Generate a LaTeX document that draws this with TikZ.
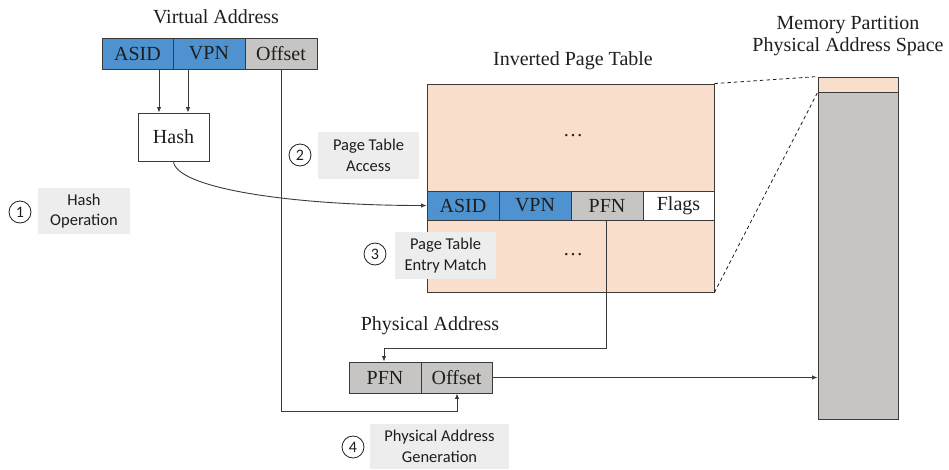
\documentclass[tikz,border=0pt]{standalone}
\usepackage{fontspec}
\setmainfont{Liberation Serif}
\newfontfamily\labelfont{Carlito}
\usetikzlibrary{arrows.meta}
\definecolor{fieldblue}{HTML}{4E93D0}
\definecolor{fieldgray}{HTML}{C6C5C3}
\definecolor{tablepeach}{HTML}{F8DECB}
\definecolor{notegray}{HTML}{EDEDED}
\definecolor{ink}{HTML}{1E1E1E}
\definecolor{edge}{HTML}{3A3A3A}
\tikzset{
  cell/.style={draw=edge, line width=0.9pt, inner sep=0pt, minimum height=31pt,
    minimum width=72pt, text=ink, font=\fontsize{20}{22}\selectfont},
  bluecell/.style={cell, fill=fieldblue},
  graycell/.style={cell, fill=fieldgray},
  whitecell/.style={cell, fill=white},
  title/.style={text=ink, font=\fontsize{20}{22}\selectfont, align=center, inner sep=0pt},
  note/.style={fill=notegray, inner sep=0pt, text=ink, align=center,
    font=\labelfont\fontsize{16.5}{20.5}\selectfont},
  stepmark/.style={circle, draw=ink, line width=0.8pt, minimum size=22pt, inner sep=0pt,
    text=ink, font=\labelfont\fontsize{16}{16}\selectfont},
  link/.style={draw=edge, line width=0.9pt},
  arrowlink/.style={link, -{Latex[length=5.5pt,width=4.5pt]}},
  guide/.style={draw=ink, line width=0.8pt, dash pattern=on 3.5pt off 3pt},
}
\begin{document}
\begin{tikzpicture}[x=1pt, y=-1pt]
\useasboundingbox (0,0) rectangle (949,469);

% ---- virtual address ----
\node[title] (vatitle) at (216,17) {Virtual Address};
\node[bluecell, minimum width=71pt] (vasid) at (137.5,53.5) {ASID};
\node[bluecell] (vvpn) at (209,53.5) {VPN};
\node[graycell] (voff) at (281,53.5) {Offset};

% ---- hash unit ----
\node[whitecell, minimum width=71pt, minimum height=48pt] (hash) at (173.5,137) {Hash};
\draw[arrowlink] (vasid.south -| 159,0) -- (hash.north -| 159,0);
\draw[arrowlink] (vvpn.south -| 188,0) -- (hash.north -| 188,0);

% ---- inverted page table ----
\node[title] (ipttitle) at (573,61) {Inverted Page Table};
\node[draw=edge, line width=0.9pt, fill=tablepeach, minimum width=287pt, minimum height=208pt,
  inner sep=0pt] (ipt) at (570.5,188) {};
\node[text=ink, font=\fontsize{20}{22}\selectfont] (dotsup) at (573,136) {\dots};
\node[text=ink, font=\fontsize{20}{22}\selectfont] (dotsdown) at (573,255) {\dots};
\node[bluecell, minimum height=29pt] (easid) at (463,205.5) {ASID};
\node[bluecell, minimum height=29pt] (evpn) at (535,205.5) {VPN};
\node[graycell, minimum height=29pt] (epfn) at (607,205.5) {PFN};
\node[whitecell, minimum height=29pt, minimum width=71pt] (eflags) at (678.5,205.5) {Flags};

% hash result selects the table entry
\draw[arrowlink] (hash.south) .. controls (176,188) and (290,205.5) .. (easid.west);

% ---- physical address ----
\node[title] (patitle) at (430,326) {Physical Address};
\node[graycell] (ppfn) at (385,377.5) {PFN};
\node[graycell, minimum width=71pt] (poff) at (456.5,377.5) {Offset};

% frame number from the matching entry
\draw[arrowlink] (epfn.south -| 606,0) |- (384,348) -- (ppfn.north -| 384,0);
% page offset carried over from the virtual address
\draw[arrowlink] (voff.south) |- (457,411) -- (poff.south -| 457,0);

% ---- memory partition ----
\node[title] (memtitle) at (848,36) {Memory Partition\\Physical Address Space};
\node[draw=edge, line width=0.9pt, fill=fieldgray, minimum width=80pt, minimum height=342pt,
  inner sep=0pt] (mem) at (858,248) {};
\node[draw=edge, line width=0.9pt, fill=tablepeach, minimum width=80pt, minimum height=15pt,
  inner sep=0pt] (memslot) at (858,84.5) {};
\draw[arrowlink] (poff.east) -- (poff.east -| mem.west);

% zoom guides from the table to its slot in memory
\draw[guide] (ipt.north east) -- (memslot.north west);
\draw[guide] (ipt.south east) -- (memslot.south west);

% ---- step annotations ----
\node[stepmark] (s1) at (20,212) {1};
\node[note, minimum width=92pt, minimum height=46pt] (n1) at (84,211) {Hash\\Operation};
\node[stepmark] (s2) at (300,155) {2};
\node[note, minimum width=101pt, minimum height=47pt] (n2) at (368.5,155.5) {Page Table\\Access};
\node[stepmark] (s3) at (375,254) {3};
\node[note, minimum width=101pt, minimum height=47pt] (n3) at (445.5,255.5) {Page Table\\Entry Match};
\node[stepmark] (s4) at (353,447) {4};
\node[note, minimum width=139pt, minimum height=45pt] (n4) at (439.5,446.5) {Physical Address\\Generation};
\end{tikzpicture}
\end{document}
